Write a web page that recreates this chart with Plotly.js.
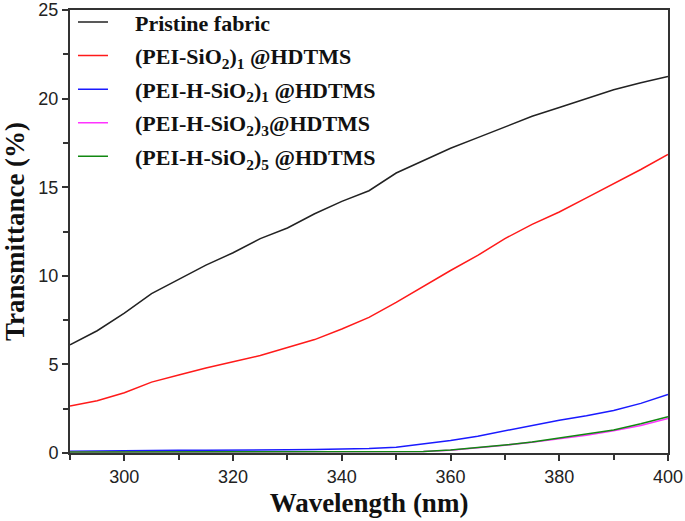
<!DOCTYPE html>
<html>
<head>
<meta charset="utf-8">
<script src="https://cdn.plot.ly/plotly-3.0.1.min.js"></script>
<style>
  body { margin: 0; background: #fff; }
  #chart { width: 685px; height: 521px; }
</style>
</head>
<body>
<div id="chart"></div>
<script>
// wavelength (nm)
const wavelength = [290, 295, 300, 305, 310, 315, 320, 325, 330, 335, 340, 345,
                    350, 355, 360, 365, 370, 375, 380, 385, 390, 395, 400];

// transmittance (%) per sample
const pristine = [6.1, 6.9, 7.9, 9.0, 9.8, 10.6, 11.3, 12.1, 12.7, 13.5, 14.2, 14.8,
                  15.8, 16.5, 17.2, 17.8, 18.4, 19.0, 19.5, 20.0, 20.5, 20.9, 21.25];
const peiSio2_1 = [2.65, 2.95, 3.4, 4.0, 4.4, 4.8, 5.15, 5.5, 5.95, 6.4, 7.0, 7.65,
                   8.5, 9.4, 10.3, 11.15, 12.1, 12.9, 13.6, 14.4, 15.2, 16.0, 16.85];
const peiH_1 = [0.1, 0.12, 0.12, 0.15, 0.15, 0.15, 0.15, 0.15, 0.18, 0.2, 0.22, 0.25,
                0.32, 0.5, 0.7, 0.95, 1.25, 1.55, 1.85, 2.1, 2.4, 2.8, 3.3];
const peiH_3 = [0.05, 0.05, 0.06, 0.06, 0.06, 0.05, 0.05, 0.05, 0.05, 0.05, 0.05, 0.06,
                0.06, 0.08, 0.16, 0.29, 0.44, 0.6, 0.8, 1.0, 1.25, 1.55, 1.95];
const peiH_5 = [0.05, 0.05, 0.05, 0.05, 0.05, 0.05, 0.05, 0.05, 0.05, 0.05, 0.06, 0.06,
                0.06, 0.08, 0.17, 0.3, 0.45, 0.62, 0.85, 1.05, 1.3, 1.65, 2.05];

const names = [
  'Pristine fabric',
  '(PEI-SiO<sub>2</sub>)<sub>1</sub> @HDTMS',
  '(PEI-H-SiO<sub>2</sub>)<sub>1</sub> @HDTMS',
  '(PEI-H-SiO<sub>2</sub>)<sub>3</sub>@HDTMS',
  '(PEI-H-SiO<sub>2</sub>)<sub>5</sub> @HDTMS'
];
const series = [pristine, peiSio2_1, peiH_1, peiH_3, peiH_5];
const colors = ['#222222', '#ff1a1a', '#1a1aff', '#ff33ff', '#118811'];

// a little padding so the text sits further from the line sample
const pad = '&nbsp;&nbsp;&nbsp;&nbsp;';

const traces = series.map((ys, i) => ({
  x: wavelength,
  y: ys,
  type: 'scatter',
  mode: 'lines',
  name: pad + names[i],
  legendgroup: 'g' + i,
  line: { color: colors[i], width: 1.5 }
}));

const axisCommon = {
  showline: true,
  linecolor: '#333',
  linewidth: 2,
  mirror: true,
  ticks: 'outside',
  ticklen: 6,
  tickwidth: 2,
  tickcolor: '#333',
  showgrid: false,
  zeroline: false,
  tickfont: { family: 'Liberation Sans, Arial, sans-serif', size: 18, color: '#222' }
};

const titleFont = { family: 'Liberation Serif, Times New Roman, serif', size: 27, color: '#111' };

const layout = {
  width: 685,
  height: 521,
  margin: { l: 70, r: 17, t: 10, b: 68, autoexpand: false },
  paper_bgcolor: '#fff',
  plot_bgcolor: '#fff',
  showlegend: true,
  legend: {
    x: 0.005, y: 1.02, xanchor: 'left', yanchor: 'top',
    bgcolor: 'rgba(0,0,0,0)',
    tracegroupgap: 2,
    font: { family: 'Liberation Serif, Times New Roman, serif', size: 22, color: '#111', weight: 'bold' }
  },
  xaxis: Object.assign({}, axisCommon, {
    range: [290, 400],
    dtick: 20,
    tick0: 300,
    minor: { dtick: 10, tick0: 290, ticks: 'outside', ticklen: 5, tickwidth: 2, tickcolor: '#333' },
    title: { text: '<b>Wavelength (nm)</b>', standoff: 8, font: titleFont }
  }),
  yaxis: Object.assign({}, axisCommon, {
    range: [0, 25],
    dtick: 5,
    minor: { dtick: 2.5, ticks: 'outside', ticklen: 5, tickwidth: 2, tickcolor: '#333' },
    title: { text: '<b>Transmittance (%)</b>', standoff: 6, font: titleFont }
  })
};

Plotly.newPlot('chart', traces, layout, { displayModeBar: false, staticPlot: true });
</script>
</body>
</html>
